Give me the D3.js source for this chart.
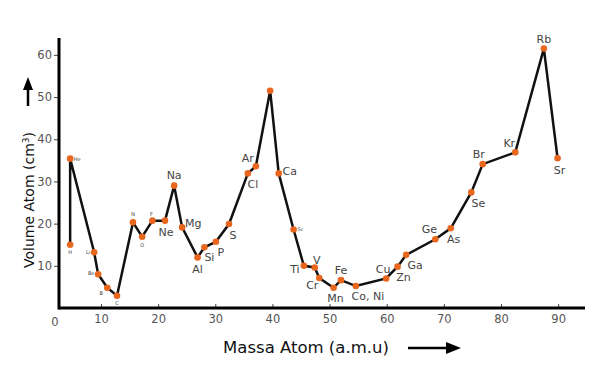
<!DOCTYPE html>
<html>
<head>
<meta charset="utf-8">
<script src="https://cdn.jsdelivr.net/npm/d3@7"></script>
<style>
  html, body { margin: 0; padding: 0; background: #fff; }
  svg { display: block; }
  text { font-family: "DejaVu Sans", Verdana, sans-serif; }
</style>
</head>
<body>
<svg id="chart" width="604" height="378"></svg>
<script>
// ---- data ----
const elements = ["H","He","Li","Be","B","C","N","O","F","Ne","Na","Mg","Al","Si","P","S","Cl","Ar","K","Ca","Sc","Ti","V","Cr","Mn","Fe","Co, Ni","Cu","Zn","Ga","Ge","As","Se","Br","Kr","Rb","Sr"];
const masses   = [4.6, 4.6, 8.8, 9.5, 11.1, 12.8, 15.6, 17.2, 19.0, 21.2, 22.8, 24.2, 26.9, 28.1, 30.1, 32.4, 35.7, 37.1, 39.6, 41.1, 43.7, 45.5, 47.4, 48.2, 50.7, 52.0, 54.6, 59.9, 61.9, 63.4, 68.5, 71.2, 74.8, 76.8, 82.5, 87.5, 89.9];
const volumes  = [15.0, 35.4, 13.2, 8.0, 4.8, 2.9, 20.3, 16.9, 20.7, 20.7, 29.0, 19.1, 12.0, 14.4, 15.7, 19.9, 31.9, 33.6, 51.5, 31.9, 18.6, 10.0, 9.6, 7.1, 4.8, 6.6, 5.2, 7.0, 9.8, 12.6, 16.3, 18.9, 27.4, 34.1, 36.9, 61.5, 35.5];
const xTicks = [10, 20, 30, 40, 50, 60, 70, 80, 90];
const yTicks = [10, 20, 30, 40, 50, 60];
const xTitle = "Massa Atom (a.m.u)";
const yTitle = "Volume Atom (cm";

// ---- label layout (offsets in px, size class) ----
const labelLayout = {
  "H":[0,9,"s"], "He":[7,2,"s"], "Li":[-6,2,"s"], "Be":[-7,1,"s"], "B":[-6,7,"s"], "C":[0,9,"s"],
  "N":[0,-6,"s"], "O":[0,10,"s"], "F":[-1,-5,"s"], "Ne":[1,15,"m"], "Na":[0,-7,"m"], "Mg":[11,0,"m"],
  "Al":[0,16,"m"], "Si":[5,14,"m"], "P":[5,14,"m"], "S":[4,15,"m"], "Cl":[5,15,"m"], "Ar":[-8,-4,"m"],
  "Ca":[11,2,"m"], "Sc":[7,1,"s"], "Ti":[-9,7,"m"], "V":[2,-4,"m"], "Cr":[-7,11,"m"], "Mn":[2,14,"m"],
  "Fe":[0,-6,"m"], "Co, Ni":[12,14,"m"], "Cu":[-3,-5,"m"], "Zn":[6,14,"m"], "Ga":[9,14,"m"], "Ge":[-6,-6,"m"],
  "As":[3,15,"m"], "Se":[7,15,"m"], "Br":[-4,-6,"m"], "Kr":[-6,-5,"m"], "Rb":[0,-6,"m"], "Sr":[2,16,"m"]
};

const svg = d3.select("#chart");
const x = d3.scaleLinear().domain([2.65, 94.7]).range([59, 585]);
const y = d3.scaleLinear().domain([0, 64]).range([308, 38]);

const pts = elements.map((e, i) => ({ name: e, m: masses[i], v: volumes[i] }));
const tickFont = "'Liberation Sans Narrow', 'DejaVu Sans Condensed', sans-serif";

// axes
const xAxis = d3.axisBottom(x).tickValues(xTicks).tickSize(-4).tickPadding(7);
const gx = svg.append("g").attr("transform", `translate(0,${y(0)})`).call(xAxis);
gx.select(".domain").remove();
gx.selectAll(".tick line").attr("stroke", "#444").attr("stroke-width", 1);
gx.selectAll(".tick text").attr("fill", "#555").attr("font-size", 11.5).attr("font-family", tickFont);

const yAxis = d3.axisLeft(y).tickValues(yTicks).tickSize(5).tickPadding(2);
const gy = svg.append("g").attr("transform", `translate(${x(2.65)},0)`).call(yAxis);
gy.select(".domain").remove();
gy.selectAll(".tick line").attr("stroke", "#444").attr("stroke-width", 1);
gy.selectAll(".tick text").attr("fill", "#555").attr("font-size", 11.5).attr("font-family", tickFont);

// origin label
svg.append("text").attr("x", 55).attr("y", y(0) + 18).attr("text-anchor", "middle")
  .attr("fill", "#555").attr("font-size", 11.5).attr("font-family", tickFont).text("0");

// axis lines
svg.append("line").attr("x1", x(2.65)).attr("x2", x(94.7)).attr("y1", y(0)).attr("y2", y(0))
  .attr("stroke", "#000").attr("stroke-width", 3);
svg.append("line").attr("x1", x(2.65)).attr("x2", x(2.65)).attr("y1", y(0) + 1.5).attr("y2", y(64))
  .attr("stroke", "#000").attr("stroke-width", 3);

// series line
const line = d3.line().x(d => x(d.m)).y(d => y(d.v));
svg.append("path").datum(pts).attr("d", line).attr("fill", "none")
  .attr("stroke", "#111").attr("stroke-width", 2.5).attr("stroke-linejoin", "miter");

// points
svg.append("g").selectAll("circle").data(pts).join("circle")
  .attr("cx", d => x(d.m)).attr("cy", d => y(d.v)).attr("r", 3.3).attr("fill", "#e8661e");

// labels
svg.append("g").selectAll("text").data(pts.filter(d => labelLayout[d.name])).join("text")
  .attr("x", d => x(d.m) + labelLayout[d.name][0])
  .attr("y", d => y(d.v) + labelLayout[d.name][1])
  .attr("text-anchor", "middle")
  .attr("font-size", d => labelLayout[d.name][2] === "s" ? 5 : 11)
  .attr("fill", "#444")
  .text(d => d.name);

// x title + arrow
svg.append("text").attr("x", 306).attr("y", 353).attr("text-anchor", "middle")
  .attr("font-size", 16.5).attr("fill", "#111").text(xTitle);
svg.append("line").attr("x1", 408).attr("x2", 448).attr("y1", 348).attr("y2", 348)
  .attr("stroke", "#000").attr("stroke-width", 2.5);
svg.append("path").attr("d", "M446,342 L461,348 L446,354 Z").attr("fill", "#000");

// y title + arrow
const yt = svg.append("text").attr("transform", "translate(34,200) rotate(-90)")
  .attr("text-anchor", "middle").attr("font-size", 14).attr("fill", "#111");
yt.append("tspan").text(yTitle);
yt.append("tspan").attr("font-size", 9).attr("dy", -5).text("3");
yt.append("tspan").attr("dy", 5).text(")");
svg.append("line").attr("x1", 28).attr("x2", 28).attr("y1", 106).attr("y2", 88)
  .attr("stroke", "#000").attr("stroke-width", 2.5);
svg.append("path").attr("d", "M23,90 L28,77 L33,90 Z").attr("fill", "#000");
</script>
</body>
</html>
